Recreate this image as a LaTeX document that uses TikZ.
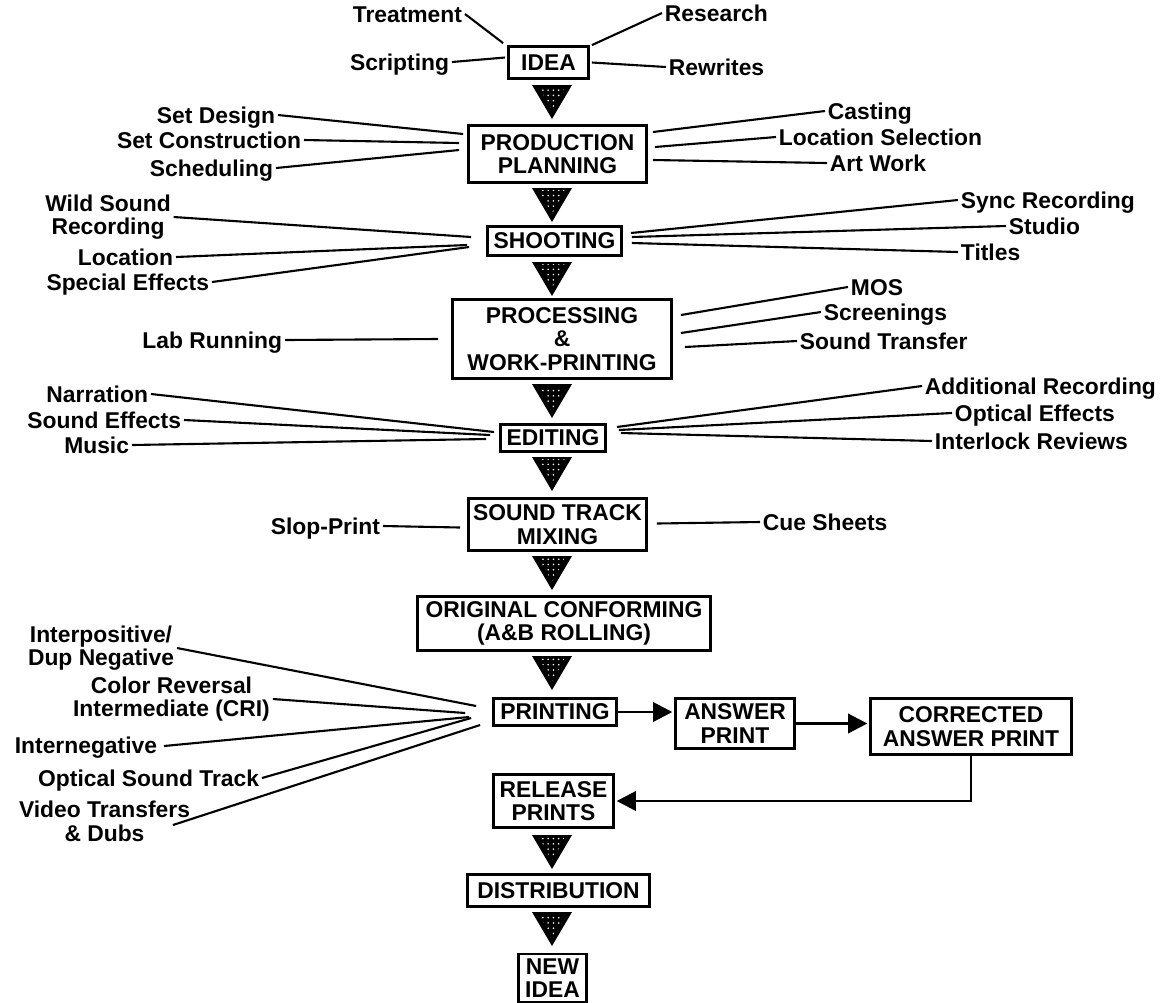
\documentclass[tikz,border=0pt]{standalone}
\usepackage{fontspec}
\setmainfont{Liberation Sans}
\usetikzlibrary{arrows.meta,calc,patterns}
\newcommand{\boxfont}{\fontsize{13}{13.5}\selectfont\bfseries}

\begin{document}
\begin{tikzpicture}[
    x=0.02cm, y=-0.02cm,
    stage/.style={draw, line width=1.6pt, align=center, inner sep=1pt, font=\boxfont},
    lbl/.style={inner sep=1.5pt, text height=9.3pt, text depth=0pt, font=\boxfont},
    lbltwo/.style={inner sep=1.5pt, align=center, font=\boxfont},
    feed/.style={line width=1.2pt},
    flow/.style={line width=1.6pt, -{Triangle[length=11pt,width=11pt]}, shorten >=1pt}
]
\useasboundingbox (0,0) rectangle (1167,1002);

% stages down the middle
\node[stage, minimum width=1.6cm, minimum height=0.64cm] (idea) at (548.5,62.5) {IDEA};
\node[stage, minimum width=3.56cm, minimum height=1.14cm] (prod) at (557.5,154) {PRODUCTION\\PLANNING};
\node[stage, minimum width=2.68cm, minimum height=0.58cm] (shoot) at (554.5,241) {SHOOTING};
\node[stage, minimum width=4.38cm, minimum height=1.58cm] (proc) at (562,339) {PROCESSING\\\&\\WORK-PRINTING};
\node[stage, minimum width=2.1cm, minimum height=0.54cm] (edit) at (553,438) {EDITING};
\node[stage, minimum width=3.56cm, minimum height=1.04cm] (mix) at (557.5,524.5) {SOUND TRACK\\MIXING};
\node[stage, minimum width=5.86cm, minimum height=1.08cm] (orig) at (564,623.5) {ORIGINAL CONFORMING\\(A\&B ROLLING)};
\node[stage, minimum width=2.46cm, minimum height=0.54cm] (print) at (555,712) {PRINTING};
\node[stage, minimum width=2.38cm, minimum height=1.0cm] (answer) at (735,723.5) {ANSWER\\PRINT};
\node[stage, minimum width=4.02cm, minimum height=1.12cm] (corr) at (971,726.5) {CORRECTED\\ANSWER PRINT};
\node[stage, minimum width=2.4cm, minimum height=1.06cm] (release) at (553.5,801) {RELEASE\\PRINTS};
\node[stage, minimum width=3.64cm, minimum height=0.64cm] (distr) at (558.5,890.5) {DISTRIBUTION};
\node[stage, minimum width=1.36cm, minimum height=0.96cm] (newidea) at (552.5,978) {NEW\\IDEA};

% flow markers
\foreach \ty in {85,188,262,384,457,556,656,835,912} {
  \fill (532,\ty) -- (572,\ty) -- (552,\ty+34) -- cycle;
  \fill[pattern=dots, pattern color=white] (539,\ty+2) -- (565,\ty+2) -- (552,\ty+26) -- cycle;
}

% idea
\node[lbl, anchor=east] (treat) at (465,14) {Treatment};
\node[lbl, anchor=east] (script) at (452,62) {Scripting};
\node[lbl, anchor=west] (research) at (662,13) {Research};
\node[lbl, anchor=west] (rewrite) at (666,67) {Rewrites};
\draw[feed] (treat.east) -- ($(idea.north west)+(-4,-2)$);
\draw[feed] (script.east) -- ($(idea.west)+(-2,-5)$);
\draw[feed] ($(idea.north east)+(2,0)$) -- (research.west);
\draw[feed] ($(idea.east)+(2,0)$) -- (rewrite.west);

% production planning
\node[lbl, anchor=east] (setdesign) at (278,115) {Set Design};
\node[lbl, anchor=east] (setcons) at (304,140) {Set Construction};
\node[lbl, anchor=east] (sched) at (276,168) {Scheduling};
\node[lbl, anchor=west] (casting) at (825,111) {Casting};
\node[lbl, anchor=west] (locsel) at (776,137) {Location Selection};
\node[lbl, anchor=west] (artwork) at (827,163) {Art Work};
\draw[feed] (setdesign.east) -- ($(prod.west)+(-4,-20)$);
\draw[feed] (setcons.east) -- ($(prod.west)+(-8,-11)$);
\draw[feed] (sched.east) -- ($(prod.west)+(-8,-4)$);
\draw[feed] ($(prod.east)+(5,-22)$) -- (casting.west);
\draw[feed] ($(prod.east)+(7,-7)$) -- (locsel.west);
\draw[feed] ($(prod.east)+(5,6)$) -- (artwork.west);

% shooting
\node[lbltwo] (wild) at (108,217) {Wild Sound\\Recording};
\node[lbl, anchor=east] (location) at (176,257) {Location};
\node[lbl, anchor=east] (special) at (212,282) {Special Effects};
\node[lbl, anchor=west] (sync) at (958,200) {Sync Recording};
\node[lbl, anchor=west] (studio) at (1006,226) {Studio};
\node[lbl, anchor=west] (titles) at (958,252) {Titles};
\draw[feed] (wild.east) -- ($(shoot.west)+(-15,-4)$);
\draw[feed] (location.east) -- ($(shoot.west)+(-19,4)$);
\draw[feed] (special.east) -- ($(shoot.west)+(-17,6)$);
\draw[feed] ($(shoot.east)+(8,-8)$) -- (sync.west);
\draw[feed] ($(shoot.east)+(9,-4)$) -- (studio.west);
\draw[feed] ($(shoot.east)+(9,2)$) -- (titles.west);

% processing
\node[lbl, anchor=east] (lab) at (285,340) {Lab Running};
\node[lbl, anchor=west] (mos) at (848,287) {MOS};
\node[lbl, anchor=west] (screen) at (821,312) {Screenings};
\node[lbl, anchor=west] (soundtr) at (797,341) {Sound Transfer};
\draw[feed] (lab.east) -- ($(proc.west)+(-13,0)$);
\draw[feed] ($(proc.east)+(8,-24)$) -- (mos.west);
\draw[feed] ($(proc.east)+(8,-6)$) -- (screen.west);
\draw[feed] ($(proc.east)+(12,8)$) -- (soundtr.west);

% editing
\node[lbl, anchor=east] (narr) at (151,394) {Narration};
\node[lbl, anchor=east] (soundfx) at (184,420) {Sound Effects};
\node[lbl, anchor=east] (music) at (132,445) {Music};
\node[lbl, anchor=west] (addrec) at (922,386) {Additional Recording};
\node[lbl, anchor=west] (opticalfx) at (952,413) {Optical Effects};
\node[lbl, anchor=west] (interlock) at (932,441) {Interlock Reviews};
\draw[feed] (narr.east) -- ($(edit.west)+(-5,-6)$);
\draw[feed] (soundfx.east) -- ($(edit.west)+(-9,-3)$);
\draw[feed] (music.east) -- ($(edit.west)+(-13,1)$);
\draw[feed] ($(edit.east)+(10,-11)$) -- (addrec.west);
\draw[feed] ($(edit.east)+(12,-8)$) -- (opticalfx.west);
\draw[feed] ($(edit.east)+(14,-5)$) -- (interlock.west);

% sound track mixing
\node[lbl, anchor=east] (slop) at (383,526) {Slop-Print};
\node[lbl, anchor=west] (cue) at (760,522) {Cue Sheets};
\draw[feed] (slop.east) -- ($(mix.west)+(-7,3)$);
\draw[feed] ($(mix.east)+(9,-1)$) -- (cue.west);

% printing
\node[lbltwo] (interpos) at (101,648) {Interpositive/\\Dup Negative};
\node[lbltwo] (cri) at (171.5,699) {Color Reversal\\Intermediate (CRI)};
\node[lbl, anchor=east] (interneg) at (160,745) {Internegative};
\node[lbl, anchor=east] (optsound) at (262,778) {Optical Sound Track};
\node[lbltwo] (video) at (104.5,821) {Video Transfers\\\& Dubs};
\draw[feed] (interpos.east) -- ($(print.west)+(-16,-6)$);
\draw[feed] (cri.east) -- ($(print.west)+(-27,1)$);
\draw[feed] ($(interneg.east)+(4,1)$) -- ($(print.west)+(-23,5)$);
\draw[feed] (optsound.east) -- ($(print.west)+(-21,6)$);
\draw[feed] ($(video.east)+(-20,4)$) -- ($(print.west)+(-12,13)$);

% answer print loop
\draw[flow] (print.east) -- (print.east -| answer.west);
\draw[flow] (answer.east) -- (answer.east -| corr.west);
\draw[flow] (corr.south) |- (release.east);
\end{tikzpicture}
\end{document}
